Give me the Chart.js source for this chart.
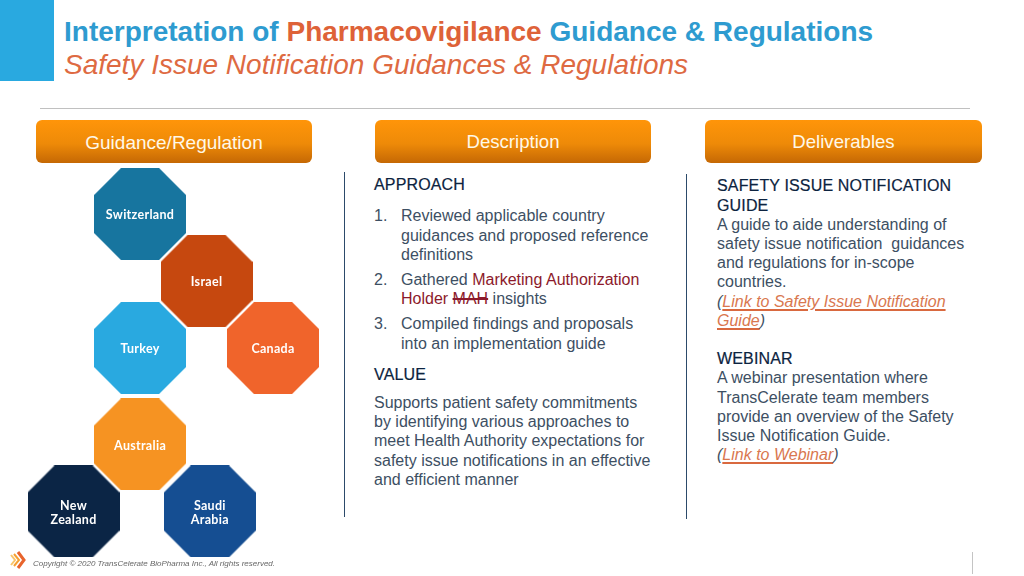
<!DOCTYPE html>
<html>
<head>
<meta charset="utf-8">
<title>Safety Issue Notification Guidances & Regulations</title>
<script src="https://cdn.jsdelivr.net/npm/chart.js@4"></script>
<style>
  html, body { margin: 0; padding: 0; background: #fff; }
  #slide { position: relative; width: 1024px; height: 576px; overflow: hidden; font-family: "Liberation Sans", Arial, sans-serif; }
  #slide div { position: absolute; white-space: pre; }
  .corner { left: 0; top: 0; width: 54px; height: 81px; background: #29a9e0; }
  .rule { left: 40px; top: 108px; width: 930px; height: 1px; background: #c0c0c0; }
  .title { left: 64px; top: 15px; font-size: 28px; line-height: 34px; font-weight: bold; color: #2e9bd0; }
  .title b { color: #de6238; }
  .sub { left: 64px; top: 48px; font-size: 28px; line-height: 34px; font-style: italic; color: #de6a42; }
  .head { top: 120px; height: 43px; line-height: 45px; border-radius: 6px; color: #fff8e8; font-size: 18.6px; text-align: center;
          background: linear-gradient(#ff9509, #ee8a08 55%, #c56804); }
  .vline { width: 1px; background: #2c4a6a; }
  .t { font-size: 16px; line-height: 20px; color: #3d4f63; margin-top: 1px; }
  .h { font-size: 16px; line-height: 20px; color: #0c2340; margin-top: 1px; letter-spacing: 0.15px; -webkit-text-stroke: 0.2px #0c2340; }
  .red { color: #8c1a2b; }
  .red s { text-decoration-thickness: 2px; }
  a { color: #d9774f; font-style: italic; text-decoration: underline; text-decoration-thickness: 2px; text-underline-offset: 2px; text-decoration-color: #d9693f; }
  .copy { left: 33px; top: 558px; font-size: 8px; line-height: 12px; font-style: italic; color: #666; }
  #regions { position: absolute; left: 20px; top: 160px; }
</style>
</head>
<body>
<div id="slide">
  <div class="corner"></div>
  <div class="title">Interpretation of <b>Pharmacovigilance</b> Guidance &amp; Regulations</div>
  <div class="sub">Safety Issue Notification Guidances &amp; Regulations</div>
  <div class="rule"></div>

  <div class="head" style="left:36px;width:276px;font-size:19px;line-height:45px;">Guidance/Regulation</div>
  <div class="head" style="left:375px;width:276px;line-height:43px;">Description</div>
  <div class="head" style="left:705px;width:277px;line-height:43px;">Deliverables</div>

  <div class="vline" style="left:344px;top:172px;height:345px;"></div>
  <div class="vline" style="left:686px;top:174px;height:345px;"></div>

  <div class="h" style="left:374px;top:174px;">APPROACH</div>
  <div class="t" style="left:374px;top:205px;">1.</div>
  <div class="t" style="left:401px;top:205px;">Reviewed applicable country</div>
  <div class="t" style="left:401px;top:225px;">guidances and proposed reference</div>
  <div class="t" style="left:401px;top:244px;">definitions</div>
  <div class="t" style="left:374px;top:269px;">2.</div>
  <div class="t" style="left:401px;top:269px;">Gathered <span class="red">Marketing Authorization</span></div>
  <div class="t" style="left:401px;top:288px;"><span class="red">Holder <s>MAH</s></span> insights</div>
  <div class="t" style="left:374px;top:313px;">3.</div>
  <div class="t" style="left:401px;top:313px;">Compiled findings and proposals</div>
  <div class="t" style="left:401px;top:333px;">into an implementation guide</div>
  <div class="h" style="left:374px;top:364px;">VALUE</div>
  <div class="t" style="left:374px;top:392px;">Supports patient safety commitments</div>
  <div class="t" style="left:374px;top:411px;">by identifying various approaches to</div>
  <div class="t" style="left:374px;top:430px;">meet Health Authority expectations for</div>
  <div class="t" style="left:374px;top:450px;">safety issue notifications in an effective</div>
  <div class="t" style="left:374px;top:469px;">and efficient manner</div>

  <div class="h" style="left:717px;top:175px;">SAFETY ISSUE NOTIFICATION</div>
  <div class="h" style="left:717px;top:195px;">GUIDE</div>
  <div class="t" style="left:717px;top:214px;">A guide to aide understanding of</div>
  <div class="t" style="left:717px;top:233px;">safety issue notification  guidances</div>
  <div class="t" style="left:717px;top:252px;">and regulations for in-scope</div>
  <div class="t" style="left:717px;top:271px;">countries.</div>
  <div class="t" style="left:717px;top:291px;font-style:italic;">(<a>Link to Safety Issue Notification</a></div>
  <div class="t" style="left:717px;top:310px;font-style:italic;"><a>Guide</a>)</div>
  <div class="h" style="left:717px;top:348px;">WEBINAR</div>
  <div class="t" style="left:717px;top:367px;">A webinar presentation where</div>
  <div class="t" style="left:717px;top:387px;">TransCelerate team members</div>
  <div class="t" style="left:717px;top:406px;">provide an overview of the Safety</div>
  <div class="t" style="left:717px;top:425px;">Issue Notification Guide.</div>
  <div class="t" style="left:717px;top:444px;font-style:italic;">(<a>Link to Webinar</a>)</div>

  <canvas id="regions" width="320" height="400"></canvas>

  <svg style="position:absolute;left:9px;top:550px;" width="18" height="20" viewBox="0 0 18 20">
    <polyline points="2,5 6,10 2,15" fill="none" stroke="#f9c56a" stroke-width="2"/>
    <polyline points="5,4 10,10 5,16" fill="none" stroke="#f6a032" stroke-width="2"/>
    <polyline points="9,2 15,10 9,18" fill="none" stroke="#e8642c" stroke-width="3"/>
  </svg>
  <div class="copy">Copyright © 2020 TransCelerate BioPharma Inc., All rights reserved.</div>
  <div style="left:972px;top:552px;width:1px;height:22px;background:#c4c4c4;"></div>
</div>

<script>
// paises, em grade (coluna / linha) como no slide
const countries = [["Switzerland"], ["Israel"], ["Turkey"], ["Canada"], ["Australia"], ["New", "Zealand"], ["Saudi", "Arabia"]];
const gridCol = [2, 3, 2, 4, 2, 1, 3.05];
const gridRow = [0, 1, 2, 2, 3.44, 4.44, 4.44];
const colors = ["#17759f", "#c6480f", "#29a9e0", "#f0642b", "#f69322", "#0b2545", "#154e92"];

// octogono usado como pointStyle
function octagon(color) {
  const size = 92;
  const cut = size * 0.293;
  const c = document.createElement("canvas");
  c.width = size;
  c.height = size;
  const g = c.getContext("2d");
  g.fillStyle = color;
  g.beginPath();
  g.moveTo(cut, 0);
  g.lineTo(size - cut, 0);
  g.lineTo(size, cut);
  g.lineTo(size, size - cut);
  g.lineTo(size - cut, size);
  g.lineTo(cut, size);
  g.lineTo(0, size - cut);
  g.lineTo(0, cut);
  g.closePath();
  g.fill();
  return c;
}

// nome do pais por cima de cada ponto
const countryLabels = {
  id: "countryLabels",
  afterDatasetsDraw(chart) {
    const ctx = chart.ctx;
    ctx.save();
    ctx.fillStyle = "#fff";
    ctx.font = "700 12.5px Lato, sans-serif";
    ctx.letterSpacing = "0.3px";
    ctx.textAlign = "center";
    ctx.textBaseline = "middle";
    chart.getDatasetMeta(0).data.forEach((pt, i) => {
      const lines = countries[i];
      lines.forEach((line, j) => {
        ctx.fillText(line, pt.x, pt.y + 1 + (j - (lines.length - 1) / 2) * 14);
      });
    });
    ctx.restore();
  }
};

new Chart(document.getElementById("regions"), {
  type: "scatter",
  data: {
    datasets: [{
      data: gridCol.map((col, i) => ({ x: col, y: gridRow[i] })),
      pointStyle: colors.map(octagon),
      pointRadius: 46,
      pointHoverRadius: 46,
      clip: false
    }]
  },
  options: {
    responsive: false,
    animation: false,
    devicePixelRatio: 1,
    events: [],
    layout: { padding: 0, autoPadding: false },
    plugins: { legend: { display: false }, tooltip: { enabled: false } },
    scales: {
      x: { display: false, min: 0.195, max: 5.007 },
      y: { display: false, reverse: true, min: -0.806, max: 5.164 }
    }
  },
  plugins: [countryLabels]
});
</script>
</body>
</html>
